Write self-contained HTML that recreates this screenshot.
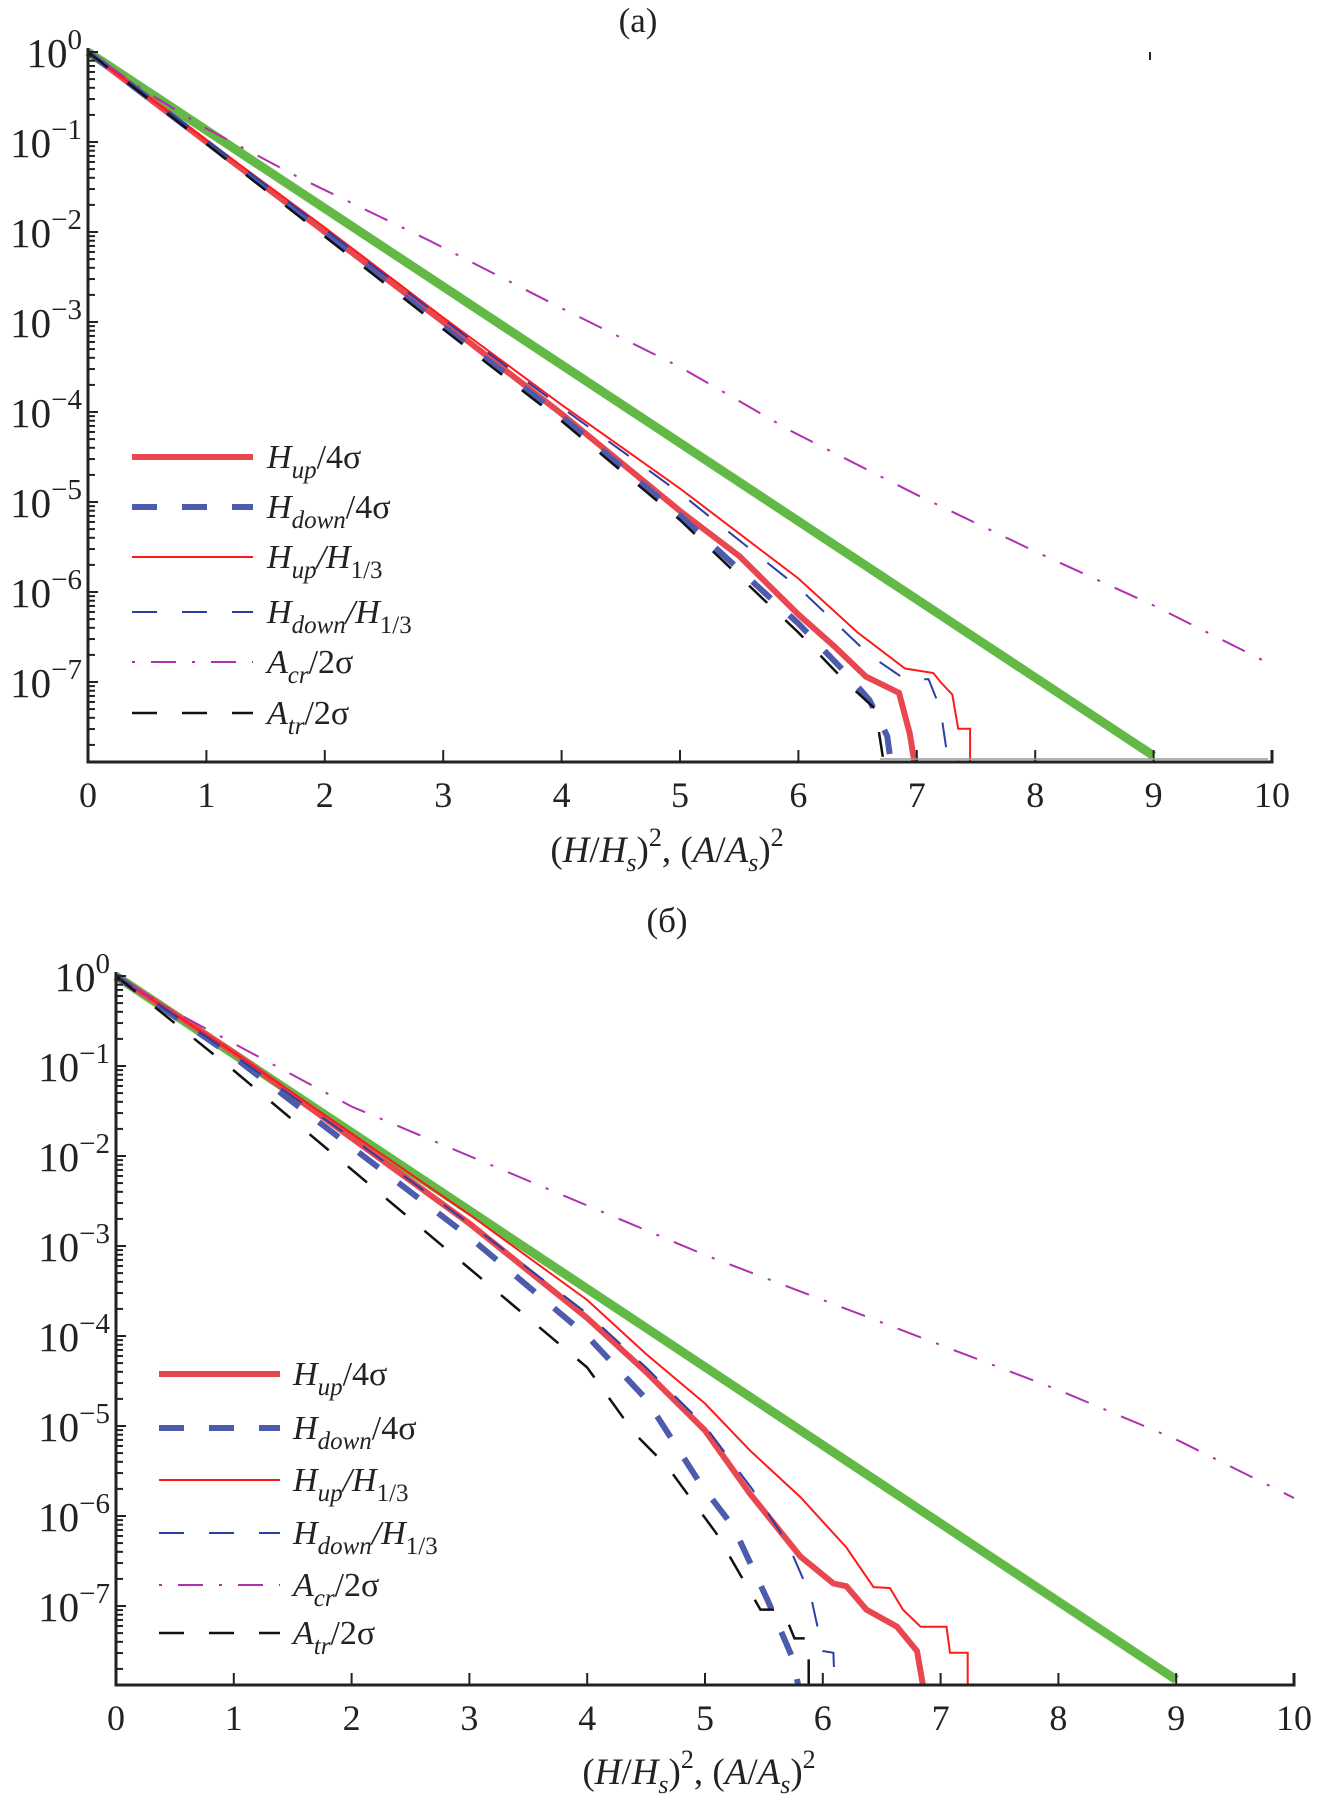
<!DOCTYPE html>
<html><head><meta charset="utf-8">
<style>
html,body{margin:0;padding:0;background:#fff;}
svg{display:block;font-family:"Liberation Serif",serif;}
</style></head>
<body>
<svg id="chart" width="1317" height="1807" viewBox="0 0 1317 1807" xmlns="http://www.w3.org/2000/svg"></svg>
<script>
// ---------- DATA ----------
const xTicks = [0,1,2,3,4,5,6,7,8,9,10];
const yTickExps = [0,-1,-2,-3,-4,-5,-6,-7];
const legendLabels = [
  ['H','up','/4σ'],['H','down','/4σ'],['H','up','/H','1/3'],['H','down','/H','1/3'],['A','cr','/2σ'],['A','tr','/2σ']
];
// panel (a): [x, log10 P]
const aHup4 = [[0,0],[1,-1.0],[2,-2.0],[3,-3.0],[4,-4.02],[5,-5.1],[5.5,-5.6],[6,-6.25],[6.3,-6.6],[6.57,-6.94],[6.85,-7.12],[6.94,-7.57],[6.98,-7.89]];
const aHdown4 = [[0,0],[1,-1.0],[2,-2.02],[3,-3.05],[4,-4.05],[5,-5.15],[6,-6.35],[6.4,-6.9],[6.6,-7.2],[6.75,-7.6],[6.78,-7.89]];
const aHup13 = [[0,0],[1,-0.98],[2,-1.95],[3,-2.95],[4,-3.92],[5,-4.85],[6,-5.85],[6.5,-6.45],[6.9,-6.85],[7.14,-6.9],[7.2,-7.0],[7.3,-7.14],[7.35,-7.52],[7.45,-7.52],[7.45,-7.89]];
const aHdown13 = [[0,0],[1,-0.98],[2,-1.97],[3,-2.97],[4,-3.95],[5,-4.9],[6,-5.95],[6.6,-6.7],[6.9,-6.97],[7.1,-6.97],[7.2,-7.3],[7.25,-7.75],[7.35,-7.75],[7.35,-7.89]];
const aAcr = [[0,0],[0.5,-0.45],[1,-0.85],[1.79,-1.4],[2.89,-2.1],[3.99,-2.84],[5,-3.5],[5.95,-4.22],[7,-4.92],[8,-5.55],[9,-6.15],[10,-6.81]];
const aAtr = [[0,0],[1,-1.02],[2,-2.05],[3,-3.08],[4,-4.1],[5,-5.2],[6,-6.45],[6.4,-7.0],[6.65,-7.3],[6.72,-7.89]];
const aRayl = [[0,0],[9,-7.82]];
// panel (б)
const bHup4 = [[0,0],[1,-0.85],[2,-1.8],[3,-2.75],[4,-3.8],[4.5,-4.4],[5,-5.05],[5.38,-5.75],[5.81,-6.45],[6.09,-6.75],[6.2,-6.78],[6.37,-7.04],[6.63,-7.23],[6.8,-7.5],[6.85,-7.88]];
const bHdown4 = [[0,0],[1,-0.9],[2,-1.9],[3,-2.9],[4,-4.0],[4.5,-4.7],[4.96,-5.64],[5.24,-6.12],[5.53,-6.93],[5.75,-7.6],[5.79,-7.88]];
const bHup13 = [[0,0],[1,-0.85],[2,-1.75],[3,-2.65],[4,-3.6],[4.5,-4.2],[5,-4.75],[5.38,-5.27],[5.81,-5.79],[6.2,-6.35],[6.43,-6.79],[6.57,-6.8],[6.68,-7.04],[6.83,-7.23],[7.05,-7.23],[7.08,-7.52],[7.23,-7.52],[7.23,-7.88]];
const bHdown13 = [[0,0],[1,-0.88],[2,-1.8],[3,-2.75],[4,-3.75],[4.5,-4.35],[5,-5.0],[5.4,-5.7],[5.7,-6.3],[5.9,-6.9],[6.0,-7.5],[6.09,-7.52],[6.1,-7.88]];
const bAcr = [[0,0],[0.5,-0.4],[1,-0.75],[2,-1.45],[3,-2.0],[4,-2.55],[5,-3.1],[6,-3.6],[7,-4.1],[8,-4.6],[9,-5.15],[10,-5.8]];
const bAtr = [[0,0],[1,-1.05],[2,-2.15],[3,-3.25],[4,-4.35],[4.4,-5.08],[4.68,-5.45],[5.1,-6.2],[5.47,-7.04],[5.66,-7.04],[5.76,-7.36],[5.88,-7.36],[5.88,-7.88]];
const bRayl = [[0,0],[9,-7.82]];

// ---------- DRAW ----------
const NS='http://www.w3.org/2000/svg';
const svg=document.getElementById('chart');
function mk(tag,attrs,parent){const e=document.createElementNS(NS,tag);for(const k in attrs)e.setAttribute(k,attrs[k]);(parent||svg).appendChild(e);return e;}

const styles=[
 {c:'#e8474f',w:6,d:''},
 {c:'#4c5bab',w:6,d:'25 25'},
 {c:'#ff1a1a',w:2,d:''},
 {c:'#2b3ea6',w:2,d:'25 25'},
 {c:'#b030b0',w:2,d:'3 16 25 16'},
 {c:'#111',w:2.5,d:'25 25'}
];

function panel(cfg){
  const g=mk('g',{});
  
  
  const X=v=>cfg.x0+v*cfg.ux;
  const Y=l=>cfg.y0-l*cfg.dec;
  const ybot=cfg.ybot;
  const plot=mk('g',{},g);
  
  
  const rayl=mk('polyline',{points:cfg.rayl.map(p=>X(p[0])+','+Y(p[1])).join(' '),fill:'none',stroke:'#62b946','stroke-width':9},plot);
  
  
  cfg.series.forEach((s,i)=>{
    const st=styles[i];
    const pl=mk('polyline',{points:s.map(p=>X(p[0]).toFixed(1)+','+Math.min(Y(p[1]),ybot).toFixed(1)).join(' '),fill:'none',stroke:st.c,'stroke-width':st.w,'stroke-dasharray':st.d,'stroke-linejoin':'miter'},plot);
    
    
  });
  const ax=mk('path',{d:`M${cfg.x0},${Y(0)-4} V${ybot} H${X(10)} V${ybot-12}`,fill:'none',stroke:'#222','stroke-width':3},g);
  
  
  xTicks.forEach(t=>{
    const tk=mk('line',{x1:X(t),x2:X(t),y1:ybot,y2:ybot-12,stroke:'#222','stroke-width':2},g);
    
    
    const tx=mk('text',{x:X(t),y:ybot+45,'text-anchor':'middle','font-size':36,fill:'#222'},g);
    tx.textContent=t;
    
    
  });
  const nDec=(ybot-Y(0))/cfg.dec;
  for(let d=0;d<Math.ceil(nDec)+1;d++){
    for(let m=1;m<10;m++){
      const l=-d-1+Math.log10(m);
      if(Y(l)>ybot||Y(l)<Y(0)) continue;
      const tk=mk('line',{x1:cfg.x0,x2:cfg.x0+(m==1?10:7),y1:Y(l),y2:Y(l),stroke:'#222','stroke-width':2},g);
      
      
    }
  }
  yTickExps.forEach(e=>{
    const tk=mk('line',{x1:cfg.x0,x2:cfg.x0+10,y1:Y(e),y2:Y(e),stroke:'#222','stroke-width':2},g);
    
    
    const tx=mk('text',{x:cfg.x0-6,y:Y(e)+15,'text-anchor':'end','font-size':41,fill:'#222'},g);
    
    
    const a=mk('tspan',{},tx);a.textContent='10';
    const sp=mk('tspan',{dy:-18,'font-size':29},tx);
    sp.textContent=(e===0?'0':'−'+(-e));
  });
  const lg=mk('g',{},g);
  
  
  legendLabels.forEach((lab,i)=>{
    const y=cfg.leg.rows[i];const st=styles[i];
    const e=mk('g',{},lg);
    
    
    mk('line',{x1:cfg.leg.x1,x2:cfg.leg.x2,y1:y,y2:y,stroke:st.c,'stroke-width':st.w,'stroke-dasharray':st.d},e);
    const t=mk('text',{x:cfg.leg.tx,y:y+11,'font-size':34,'font-style':'italic',fill:'#222'},e);
    const a=mk('tspan',{},t);a.textContent=lab[0];
    const b=mk('tspan',{dy:10,'font-size':25},t);b.textContent=lab[1];
    const c=mk('tspan',{dy:-10,'font-style':lab.length>3?'italic':'normal'},t);c.textContent=lab[2];
    if(lab.length>3){const d=mk('tspan',{dy:10,'font-size':25,'font-style':'normal'},t);d.textContent=lab[3];}
  });
  const tt=mk('text',{x:cfg.title[0],y:cfg.title[1],'text-anchor':'middle','font-size':35,fill:'#222'},g);
  tt.textContent=cfg.titleText;
  
  
  const xl=mk('text',{x:cfg.xl[0],y:cfg.xl[1],'text-anchor':'middle','font-size':37,fill:'#222'},g);
  
  
  xl.innerHTML='(<tspan font-style="italic">H</tspan>/<tspan font-style="italic">H</tspan><tspan font-style="italic" font-size="26" dy="9">s</tspan><tspan dy="-9">)</tspan><tspan font-size="26" dy="-16">2</tspan><tspan dy="16">, (</tspan><tspan font-style="italic">A</tspan>/<tspan font-style="italic">A</tspan><tspan font-style="italic" font-size="26" dy="9">s</tspan><tspan dy="-9">)</tspan><tspan font-size="26" dy="-16">2</tspan>';
}

const keys=['hup-4sigma','hdown-4sigma','hup-h13','hdown-h13','acr-2sigma','atr-2sigma'];
panel({name:'panel-a',x0:88,ux:118.4,y0:52,dec:90,ybot:762,rayl:aRayl,
  series:[aHup4,aHdown4,aHup13,aHdown13,aAcr,aAtr],keys:keys,
  leg:{x1:132,x2:253,tx:267,rows:[457,507,557,612,662,713]},
  title:[638,32],titleText:'(a)',xl:[667,862]});
panel({name:'panel-b',x0:116,ux:117.8,y0:976,dec:90,ybot:1685,rayl:bRayl,
  series:[bHup4,bHdown4,bHup13,bHdown13,bAcr,bAtr],keys:keys,
  leg:{x1:159,x2:280,tx:293,rows:[1374,1428,1480,1533,1585,1633]},
  title:[667,932],titleText:'(б)',xl:[699,1784]});
const gl=mk('line',{x1:880,x2:1268,y1:759,y2:759,stroke:'#999','stroke-width':1.5});


const mkr=mk('line',{x1:1150,x2:1150,y1:52,y2:60,stroke:'#222','stroke-width':2});


</script>
</body></html>
